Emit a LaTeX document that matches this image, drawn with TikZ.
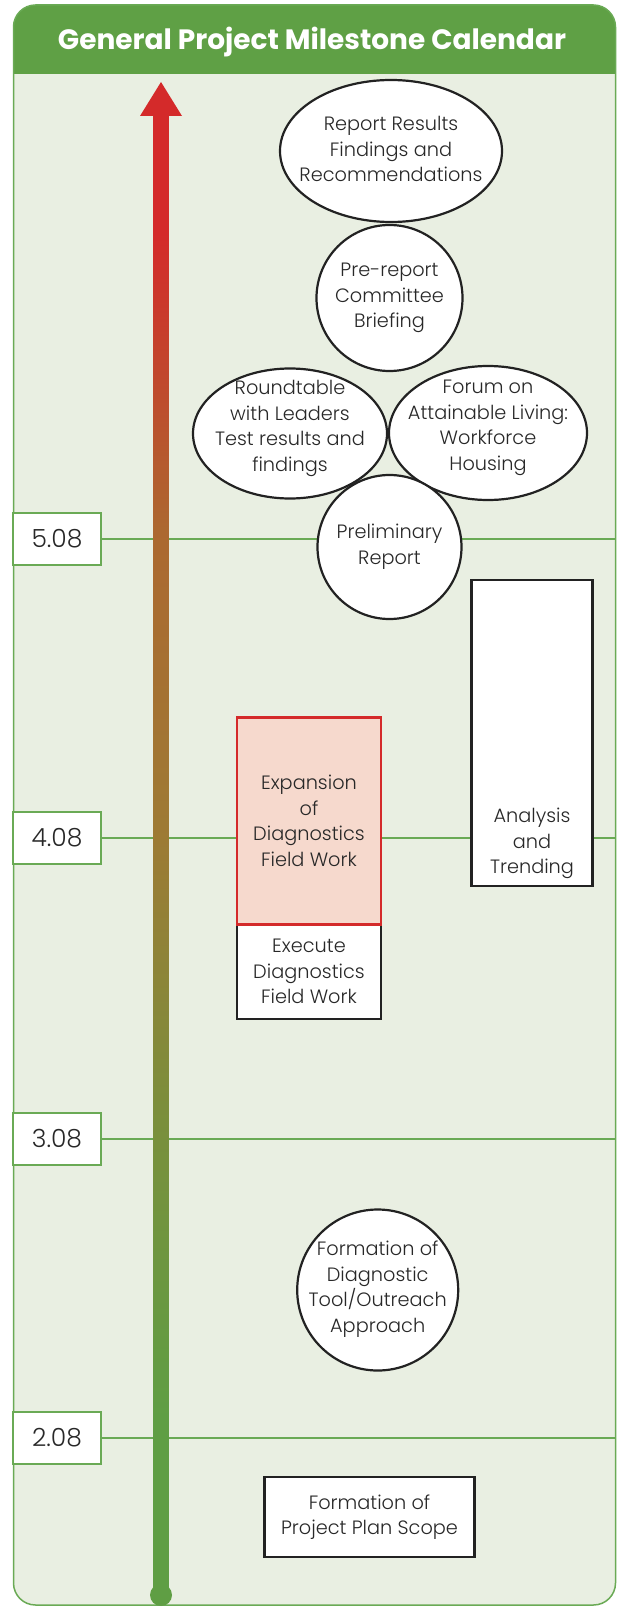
\documentclass[tikz,border=0pt]{standalone}
\usepackage{fontspec}
\setmainfont{Poppins}[UprightFont={* Light}, BoldFont={* Bold}]
\usetikzlibrary{shapes.geometric}
\definecolor{bg}{RGB}{233,239,226}
\definecolor{framegreen}{RGB}{106,170,85}
\definecolor{titlegreen}{RGB}{95,160,69}
\definecolor{tlred}{RGB}{212,42,42}
\definecolor{tlgreen}{RGB}{95,158,68}
\definecolor{tlolive}{RGB}{122,143,60}
\definecolor{tlbrownA}{RGB}{158,122,52}
\definecolor{tlbrownB}{RGB}{172,104,48}
\definecolor{txt}{RGB}{40,40,40}
\definecolor{expfill}{RGB}{246,217,205}
\definecolor{expborder}{RGB}{212,42,42}
\definecolor{strokec}{RGB}{34,34,34}
\pgfdeclareverticalshading{timeline}{100bp}{color(0bp)=(tlgreen); color(31bp)=(tlgreen); color(41bp)=(tlolive); color(51bp)=(tlbrownA); color(61bp)=(tlbrownB); color(71bp)=(tlred); color(100bp)=(tlred)}
\begin{document}
\begin{tikzpicture}[x=1pt,y=-1pt,
  bodytext/.style={font=\fontsize{19.3}{25.6}\selectfont, text=txt, align=center},
  oval/.style={ellipse, draw=strokec, line width=2.2pt, fill=white, inner sep=0pt},
  roundnode/.style={circle, draw=strokec, line width=2.2pt, fill=white, inner sep=0pt},
  boxnode/.style={bodytext, rectangle, draw=strokec, line width=2.2pt, fill=white, inner sep=0pt},
  datebox/.style={rectangle, draw=framegreen, line width=1.5pt, fill=white, minimum width=88pt, minimum height=52pt, inner sep=0pt, font=\fontsize{25}{30}\selectfont, text=txt},
  hline/.style={draw=framegreen, line width=1.8pt},
  titletext/.style={font=\fontsize{28}{32}\selectfont\bfseries, text=white}
]
\useasboundingbox (0,0) rectangle (617,1608);
% frame
\fill[bg, rounded corners=22pt] (13.5,5) rectangle (615.5,1605);
\fill[titlegreen] (13.5,74) [rounded corners=22pt]-- (13.5,5) -- (615.5,5) [sharp corners]-- (615.5,74) -- cycle;
\draw[framegreen, line width=1.5pt, rounded corners=22pt] (13.5,5) rectangle (615.5,1605);
\node[titletext] (title) at (312,42) {General Project Milestone Calendar};
\coordinate (rightedge) at (615.5,0);
% date boxes
\node[datebox] (d508) at (57,539) {5.08};
\node[datebox] (d408) at (57,838) {4.08};
\node[datebox] (d308) at (57,1139) {3.08};
\node[datebox] (d208) at (57,1438) {2.08};
\draw[hline] (d508.east) -- (d508.east -| rightedge);
\draw[hline] (d408.east) -- (d408.east -| rightedge);
\draw[hline] (d308.east) -- (d308.east -| rightedge);
\draw[hline] (d208.east) -- (d208.east -| rightedge);
% timeline arrow
\coordinate (tltip) at (161,82);
\coordinate (tlbase) at (161,116);
\coordinate (tlbot) at (161,1595);
\shade[shading=timeline] (153.5,115) rectangle (168.5,1595);
\fill[tlred] (140,116) -- (tltip) -- (182,116) -- cycle;
\fill[tlgreen] (tlbot) circle (11);
% upper cluster
\node[oval, minimum width=222pt, minimum height=142pt, label={[bodytext, yshift=2pt]center:Report Results\\Findings and\\Recommendations}] (report) at (391,151) {};
\node[oval, minimum width=194pt, minimum height=130pt, label={[bodytext, yshift=5pt]center:Roundtable\\with Leaders\\Test results and\\findings}] (round) at (290,433.5) {};
\node[oval, minimum width=198pt, minimum height=134pt, label={[bodytext, yshift=5pt]center:Forum on\\Attainable Living:\\Workforce\\Housing}] (forum) at (488,433) {};
\node[roundnode, minimum size=146pt, label={[bodytext]center:Pre-report\\Committee\\Briefing}] (prerep) at (389.5,298) {};
\node[roundnode, minimum size=144pt, label={[bodytext]center:Preliminary\\Report}] (prelim) at (389.5,547) {};
% boxes
\node[boxnode, minimum width=121pt, minimum height=306pt, label={[bodytext, yshift=-110.5pt]center:Analysis\\and\\Trending}] (analysis) at (532,733) {};
\node[boxnode, minimum width=144.5pt, minimum height=94.5pt] (execute) at (309,971.7) {Execute\\Diagnostics\\Field Work};
\node[boxnode, draw=expborder, fill=expfill, minimum width=144.5pt, minimum height=207pt] (expansion) at (309,821) {Expansion\\of\\Diagnostics\\Field Work};
\node[roundnode, minimum size=161pt, label={[bodytext, yshift=1pt]center:Formation of\\Diagnostic\\Tool/Outreach\\Approach}] (tool) at (377.7,1290) {};
\node[boxnode, minimum width=210pt, minimum height=80pt] (scope) at (369.5,1517) {Formation of\\Project Plan Scope};
\end{tikzpicture}
\end{document}
